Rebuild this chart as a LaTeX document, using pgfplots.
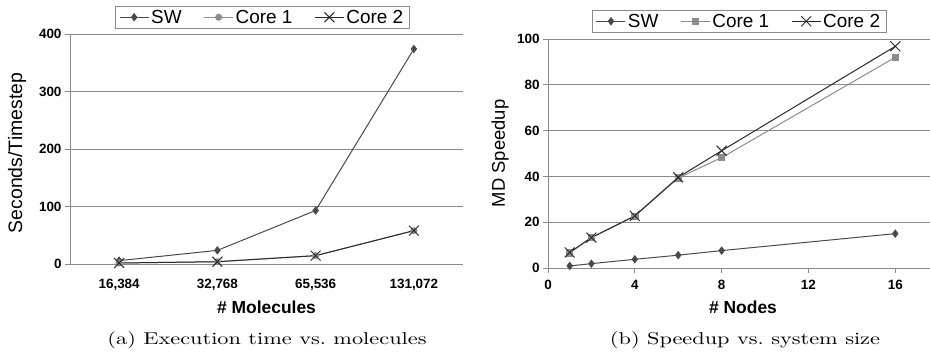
\documentclass[border=0pt]{standalone}
\usepackage{fontspec}
\usepackage{pgfplots}
\pgfplotsset{compat=1.18}
\newfontfamily\arial{Liberation Sans}
\definecolor{swc}{HTML}{4A4A4A}
\definecolor{c1c}{HTML}{8C8C8C}
\definecolor{c2c}{HTML}{2A2A2A}
\definecolor{gridc}{HTML}{8A8A8A}
\pgfplotsset{
  mybase/.style={
    scale only axis,
    axis x line*=bottom, axis y line*=left,
    axis line style={draw=gridc, line width=0.8bp, -},
    tick align=outside,
    ymajorgrids, major grid style={draw=gridc, line width=0.7bp},
    tick style={draw=gridc, line width=0.8bp},
    major tick length=5bp, minor tick length=5bp,
    /pgf/number format/assume math mode=true,
    ticklabel style={font=\arial\bfseries\fontsize{13.5}{15}\selectfont, text=black},
    legend columns=3,
    legend style={draw=gridc, line width=0.8bp, fill=white,
      font=\arial\fontsize{19}{21}\selectfont,
      inner xsep=4bp, inner ysep=2bp,
      /tikz/every even column/.append style={column sep=20bp}},
    legend image code/.code={\draw[mark repeat=2,mark phase=2,#1] plot coordinates {(0bp,0bp)(14.5bp,0bp)(29bp,0bp)};},
    every axis plot/.append style={line width=1bp},
  }
}
\begin{document}
\begin{tikzpicture}
\useasboundingbox (0,0) rectangle (930bp,356bp);
% ---------- (a) ----------
\begin{axis}[mybase,
  at={(70bp,92bp)}, anchor=south west,
  width=393bp, height=230bp,
  xmin=-0.5, xmax=3.5, ymin=0, ymax=400,
  xtick={0,1,2,3},
  xticklabels={{16,384},{32,768},{65,536},{131,072}},
  xticklabel style={yshift=-7bp},
  xtick style={draw=none},
  minor xtick={-0.5,0.5,1.5,2.5,3.5},
  ytick={0,100,200,300,400},
  xlabel={\# Molecules},
  ylabel={Seconds/Timestep},
  every axis x label/.style={at={(axis description cs:0.5,0)}, yshift=-43bp, anchor=center, font=\arial\bfseries\fontsize{17.5}{19}\selectfont},
  every axis y label/.style={at={(axis description cs:0,0.5)}, xshift=-53bp, yshift=-4bp, rotate=90, anchor=center, font=\arial\fontsize{19.5}{21}\selectfont},
  legend style={at={(0.489,1)}, anchor=south, yshift=5bp},
]
\addplot[color=swc, mark=diamond*, mark size=3.5bp, mark options={fill=swc}] coordinates {(0,5.8) (1,23.7) (2,93) (3,374)};
\addlegendentry{SW}
\addplot[color=c1c, mark=*, mark size=3bp, mark options={fill=c1c}] coordinates {(0,1.7) (1,4) (2,14.5) (3,58)};
\addlegendentry{Core 1}
\addplot[color=c2c, mark=x, mark size=7bp] coordinates {(0,1.7) (1,4) (2,14.5) (3,58)};
\addlegendentry{Core 2}
\end{axis}
% ---------- (b) ----------
\begin{axis}[mybase,
  at={(548bp,88bp)}, anchor=south west,
  width=382bp, height=229bp,
  xmin=0, xmax=17.6, ymin=0, ymax=100,
  xtick={0,4,8,12,16},
  xticklabel style={yshift=-4bp},
  ytick={0,20,40,60,80,100},
  xlabel={\# Nodes},
  ylabel={MD Speedup},
  every axis x label/.style={at={(axis description cs:0.5,0)}, yshift=-39bp, xshift=4bp, anchor=center, font=\arial\bfseries\fontsize{17.5}{19}\selectfont},
  every axis y label/.style={at={(axis description cs:0,0.5)}, xshift=-48bp, rotate=90, anchor=center, font=\arial\fontsize{18.5}{20}\selectfont},
  legend style={at={(0.5,1)}, anchor=south, yshift=6bp},
]
\addplot[color=swc, mark=diamond*, mark size=3.5bp, mark options={fill=swc}] coordinates {(1,0.9) (2,1.9) (4,3.8) (6,5.6) (8,7.6) (16,15)};
\addlegendentry{SW}
\addplot[color=c1c, mark=square*, mark size=3.2bp, mark options={fill=c1c}] coordinates {(1,6.6) (2,13.2) (4,22.6) (6,39.3) (8,48.2) (16,92)};
\addlegendentry{Core 1}
\addplot[color=c2c, mark=x, mark size=7bp] coordinates {(1,6.8) (2,13.3) (4,22.8) (6,39.6) (8,51.2) (16,96.8)};
\addlegendentry{Core 2}
\end{axis}
\node at (267bp,16bp) {\scalebox{2.24}[1.72]{\fontsize{10}{12}\selectfont (a) Execution time vs.\ molecules}};
\node at (745bp,16bp) {\scalebox{2.24}[1.72]{\fontsize{10}{12}\selectfont (b) Speedup vs.\ system size}};
\end{tikzpicture}
\end{document}
